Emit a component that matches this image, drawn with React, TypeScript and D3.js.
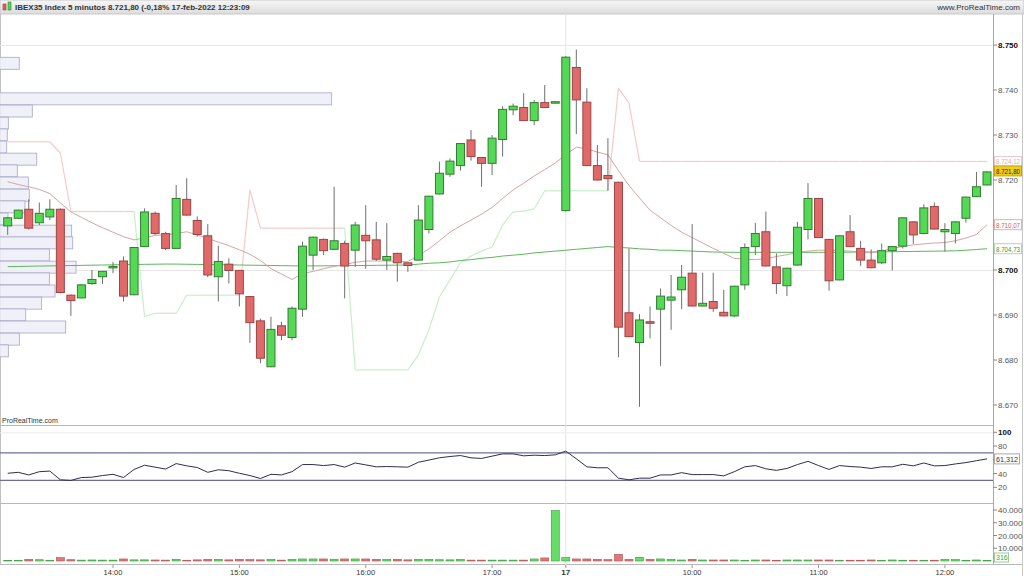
import React, { useEffect } from "react";
import * as d3 from "d3";

// 5-minute bars, 16-feb 13:10 .. 17-feb 12:20
const opens = [8709.8, 8711.5, 8713.5, 8710.5, 8711.8, 8713.5, 8694.4, 8693.8, 8697.0, 8698.5, 8700.6, 8702.0, 8694.5, 8705.2, 8712.6, 8708.1, 8704.8, 8715.7, 8711.0, 8707.6, 8698.5, 8701.3, 8699.9, 8694.1, 8688.7, 8678.5, 8687.6, 8685.0, 8691.3, 8703.3, 8706.8, 8704.6, 8705.9, 8704.4, 8707.7, 8706.7, 8702.2, 8703.7, 8701.6, 8702.2, 8709.0, 8716.9, 8721.3, 8723.2, 8728.9, 8725.0, 8723.7, 8729.0, 8735.6, 8736.1, 8733.2, 8737.2, 8737.2, 8713.2, 8745.0, 8737.3, 8723.2, 8721.0, 8719.5, 8690.5, 8683.9, 8688.5, 8691.3, 8693.3, 8695.6, 8699.3, 8692.0, 8693.0, 8690.6, 8689.8, 8696.7, 8705.2, 8708.5, 8700.7, 8696.5, 8701.1, 8709.0, 8715.9, 8706.8, 8697.8, 8708.5, 8704.8, 8702.2, 8701.6, 8704.3, 8705.3, 8710.7, 8708.1, 8714.1, 8708.5, 8708.1, 8711.5, 8716.3, 8718.9];
const highs = [8711.8, 8713.4, 8715.7, 8715.0, 8715.7, 8713.7, 8694.6, 8696.8, 8700.0, 8699.8, 8701.8, 8703.0, 8705.1, 8713.7, 8713.0, 8708.5, 8718.9, 8720.4, 8711.9, 8710.2, 8705.4, 8702.6, 8700.0, 8694.2, 8689.2, 8689.6, 8688.5, 8691.9, 8706.3, 8707.4, 8707.0, 8718.5, 8706.5, 8710.7, 8714.4, 8710.7, 8710.4, 8703.8, 8701.7, 8714.4, 8716.5, 8724.1, 8724.8, 8728.2, 8731.1, 8725.1, 8730.0, 8736.4, 8737.0, 8739.3, 8737.8, 8741.1, 8737.5, 8747.5, 8749.0, 8740.4, 8727.8, 8729.3, 8719.6, 8704.8, 8690.2, 8691.9, 8695.9, 8698.9, 8701.1, 8710.2, 8699.4, 8699.4, 8695.6, 8696.5, 8705.9, 8710.5, 8713.0, 8703.7, 8700.5, 8710.7, 8719.3, 8716.0, 8706.9, 8707.7, 8712.2, 8706.5, 8704.6, 8705.9, 8705.3, 8711.7, 8710.8, 8714.6, 8715.0, 8710.4, 8710.8, 8716.3, 8721.8, 8721.9];
const lows = [8707.8, 8711.3, 8709.0, 8710.0, 8711.1, 8694.8, 8689.8, 8693.7, 8696.7, 8696.9, 8699.3, 8693.0, 8694.4, 8705.1, 8707.8, 8704.4, 8704.7, 8712.1, 8707.4, 8698.4, 8693.0, 8697.0, 8691.9, 8683.8, 8679.3, 8678.4, 8684.4, 8684.4, 8689.6, 8700.0, 8703.3, 8704.5, 8693.7, 8700.7, 8700.3, 8702.0, 8700.0, 8697.4, 8699.6, 8702.1, 8708.1, 8716.8, 8720.7, 8722.1, 8724.3, 8718.5, 8721.1, 8725.2, 8734.4, 8733.1, 8732.2, 8736.0, 8737.1, 8713.0, 8730.2, 8723.1, 8719.9, 8717.6, 8680.6, 8685.1, 8669.6, 8684.8, 8678.7, 8686.7, 8691.3, 8691.9, 8691.9, 8690.7, 8689.7, 8689.5, 8695.6, 8703.3, 8700.8, 8694.7, 8694.2, 8701.0, 8706.8, 8707.1, 8695.4, 8697.7, 8705.1, 8700.9, 8700.4, 8701.3, 8699.9, 8704.8, 8705.8, 8708.0, 8709.0, 8704.1, 8705.9, 8710.5, 8716.2, 8718.8];
const closes = [8711.6, 8713.3, 8709.3, 8712.6, 8713.5, 8695.0, 8693.2, 8696.7, 8697.9, 8699.7, 8700.8, 8694.2, 8705.0, 8712.9, 8708.1, 8704.8, 8715.9, 8712.2, 8707.9, 8698.9, 8701.9, 8699.9, 8694.7, 8688.3, 8680.4, 8686.8, 8685.5, 8691.5, 8705.3, 8707.3, 8704.3, 8706.5, 8700.9, 8710.0, 8706.5, 8702.4, 8703.0, 8701.6, 8701.0, 8711.1, 8716.4, 8721.5, 8724.2, 8728.1, 8725.2, 8723.7, 8729.3, 8735.7, 8736.4, 8733.2, 8737.2, 8736.1, 8737.4, 8747.3, 8737.8, 8723.2, 8720.0, 8720.3, 8687.3, 8685.2, 8688.9, 8688.2, 8694.2, 8694.0, 8698.4, 8692.0, 8692.6, 8691.5, 8689.8, 8696.4, 8705.0, 8708.1, 8700.9, 8697.0, 8700.4, 8709.5, 8715.9, 8707.2, 8697.6, 8707.6, 8705.2, 8702.2, 8700.5, 8704.3, 8705.2, 8711.6, 8707.8, 8713.8, 8709.1, 8709.0, 8710.7, 8716.2, 8718.5, 8721.8];
const volumes = [500, 600, 1300, 1000, 600, 2600, 1000, 700, 800, 700, 700, 1600, 900, 900, 800, 700, 1300, 600, 900, 1300, 1300, 900, 1300, 1100, 900, 1300, 700, 1300, 1600, 1600, 1600, 1400, 1600, 1600, 1600, 1300, 1300, 1300, 900, 1300, 1300, 1000, 900, 1300, 700, 700, 700, 700, 700, 700, 1600, 2400, 39500, 2600, 1600, 1600, 1300, 1050, 5200, 1300, 2900, 1300, 1600, 1300, 800, 1300, 800, 800, 800, 800, 600, 800, 800, 600, 800, 800, 800, 800, 800, 600, 600, 600, 800, 600, 800, 600, 600, 600, 600, 1300, 1050, 600, 800, 316];
const rsiValues = [40.4, 41.8, 38.0, 42.7, 43.6, 30.9, 30.0, 34.2, 34.7, 37.1, 38.9, 34.2, 46.0, 52.1, 49.3, 46.5, 54.5, 51.2, 48.8, 41.8, 45.5, 44.1, 40.4, 37.1, 32.8, 38.9, 38.0, 42.7, 53.1, 53.1, 51.6, 53.1, 49.3, 55.4, 52.6, 49.8, 50.2, 49.8, 49.3, 56.4, 59.6, 62.9, 64.8, 66.2, 62.9, 62.0, 65.3, 68.6, 68.6, 65.8, 66.7, 66.2, 67.2, 72.6, 61.5, 49.8, 48.4, 48.4, 33.3, 30.9, 33.3, 33.3, 38.0, 38.0, 41.3, 38.5, 38.5, 38.5, 36.6, 42.7, 49.8, 51.6, 46.9, 44.6, 47.4, 53.1, 57.8, 51.6, 46.0, 51.6, 50.2, 49.3, 47.4, 49.8, 49.8, 53.5, 51.2, 55.4, 51.2, 51.6, 54.0, 55.9, 58.7, 61.312];
const maFast = [8719.6, 8719.0, 8718.5, 8717.9, 8717.0, 8714.9, 8712.9, 8711.7, 8710.5, 8709.4, 8708.4, 8707.4, 8706.7, 8707.1, 8707.7, 8707.8, 8708.1, 8708.5, 8707.8, 8707.0, 8706.2, 8705.4, 8704.5, 8703.5, 8702.1, 8700.3, 8699.1, 8697.9, 8699.2, 8699.7, 8700.3, 8700.8, 8701.2, 8701.7, 8702.0, 8702.0, 8702.0, 8701.9, 8701.9, 8703.2, 8704.7, 8706.5, 8708.4, 8709.8, 8711.1, 8712.4, 8713.9, 8715.9, 8717.8, 8719.3, 8720.9, 8722.3, 8723.8, 8725.6, 8727.3, 8726.9, 8726.2, 8725.6, 8722.1, 8718.8, 8716.0, 8713.3, 8711.6, 8709.9, 8708.4, 8707.2, 8706.0, 8704.8, 8703.7, 8702.6, 8702.4, 8702.3, 8702.5, 8703.0, 8703.4, 8703.9, 8704.2, 8704.4, 8704.4, 8704.3, 8704.2, 8704.0, 8703.8, 8704.2, 8704.8, 8705.2, 8705.6, 8705.8, 8706.0, 8706.1, 8706.5, 8707.1, 8707.9, 8710.07];
const maSlow = [8700.75, 8700.79, 8700.83, 8700.87, 8700.91, 8700.95, 8700.99, 8701.03, 8701.07, 8701.11, 8701.15, 8701.19, 8701.22, 8701.26, 8701.29, 8701.32, 8701.31, 8701.28, 8701.24, 8701.21, 8701.18, 8701.14, 8701.11, 8701.07, 8701.04, 8701.0, 8700.97, 8700.93, 8700.9, 8700.91, 8700.93, 8700.95, 8700.97, 8700.99, 8701.01, 8701.04, 8701.06, 8701.08, 8701.11, 8701.3, 8701.5, 8701.6, 8701.8, 8702.1, 8702.3, 8702.6, 8702.8, 8703.1, 8703.3, 8703.5, 8703.8, 8704.0, 8704.2, 8704.4, 8704.6, 8704.8, 8705.0, 8705.2, 8705.0, 8704.9, 8704.7, 8704.6, 8704.4, 8704.4, 8704.3, 8704.2, 8704.1, 8704.0, 8703.95, 8703.93, 8703.93, 8703.93, 8703.93, 8703.93, 8703.93, 8703.93, 8703.93, 8703.93, 8703.93, 8703.95, 8703.97, 8703.99, 8704.01, 8704.04, 8704.06, 8704.1, 8704.12, 8704.15, 8704.19, 8704.22, 8704.27, 8704.4, 8704.55, 8704.73];
const superTrend = [8728.5, 8728.5, 8728.5, 8728.5, 8728.5, 8726.0, 8713.0, 8713.0, 8713.0, 8713.0, 8713.0, 8713.0, 8713.0, 8689.6, 8690.4, 8690.4, 8690.4, 8694.4, 8694.4, 8694.4, 8694.4, 8694.4, 8694.4, 8717.8, 8709.3, 8709.3, 8709.3, 8709.3, 8709.3, 8709.3, 8709.3, 8709.3, 8709.3, 8677.8, 8677.8, 8677.8, 8677.8, 8677.8, 8677.8, 8681.1, 8686.7, 8694.0, 8697.8, 8701.6, 8703.1, 8704.2, 8705.1, 8710.0, 8712.9, 8713.1, 8713.6, 8717.6, 8717.6, 8717.6, 8717.6, 8717.6, 8717.6, 8717.6, 8740.4, 8737.1, 8724.12, 8724.12, 8724.12, 8724.12, 8724.12, 8724.12, 8724.12, 8724.12, 8724.12, 8724.12, 8724.12, 8724.12, 8724.12, 8724.12, 8724.12, 8724.12, 8724.12, 8724.12, 8724.12, 8724.12, 8724.12, 8724.12, 8724.12, 8724.12, 8724.12, 8724.12, 8724.12, 8724.12, 8724.12, 8724.12, 8724.12, 8724.12, 8724.12, 8724.12];

// volume profile: low edge of each price bin and its volume
const profileLow = [8744.6, 8742.0, 8739.3, 8736.7, 8734.0, 8731.3, 8728.7, 8726.0, 8723.3, 8720.7, 8718.0, 8715.3, 8712.7, 8710.0, 8707.3, 8704.7, 8702.0, 8699.3, 8696.7, 8694.0, 8691.3, 8688.7, 8686.0, 8683.3, 8680.7];
const profileVol = [2380, 0, 0, 41000, 3990, 1030, 900, 830, 4540, 2140, 3500, 3620, 3090, 990, 8860, 8990, 6100, 9400, 6100, 6800, 5150, 3180, 8120, 2390, 1030];
const profileBin = 2.667;

const tickIndex = [10, 22, 34, 46, 53, 65, 77, 89];
const tickLabels = ["14:00", "15:00", "16:00", "17:00", "17", "10:00", "11:00", "12:00"];
const priceTicks = [8670, 8680, 8690, 8700, 8710, 8720, 8730, 8740, 8750];
const rsiTicks = [20, 40, 60, 80, 100];
const volTicks = [10000, 20000, 30000, 40000];

const es = d3.formatLocale({ decimal: ",", thousands: ".", grouping: [3], currency: ["", ""] });
const fmtInt = es.format(",.0f");
const fmt2 = es.format(",.2f");
const fmt3 = es.format(",.3f");

const FONT = "'Liberation Sans', Arial, sans-serif";
const AXIS_X = 993;
const TAG_W = 27;

export default function App() {
  useEffect(() => {
    document.body.style.margin = "0";
  }, []);

  const n = closes.length;
  const x = d3.scaleLinear().domain([0, n - 1]).range([7.7, 987]);
  const y = d3.scaleLinear().domain([8700, 8750]).range([270, 45]);
  const yRsi = d3.scaleLinear().domain([20, 100]).range([487.3, 432.3]);
  const yVol = d3.scaleLinear().domain([0, 40000]).range([561, 510]);
  const xProf = d3.scaleLinear().domain([0, 41000]).range([0, 331.7]);
  const idx = d3.range(n);
  const bw = 8;

  const up = (i: number) => closes[i] >= opens[i];
  const lineOf = (arr: number[], sc: d3.ScaleLinear<number, number>) =>
    d3.line<number>().x((i) => x(i)).y((i) => sc(arr[i]))(idx) || "";

  // supertrend segments: pink above price, green below
  const stSegs = idx.slice(1).map((i) => ({
    d: `M${x(i - 1)},${y(superTrend[i - 1])}L${x(i)},${y(superTrend[i])}`,
    bull: superTrend[i] < closes[i],
  }));

  const last = n - 1;
  const tags = [
    { v: superTrend[last], color: "#e8a8a8", border: "#e8caca" },
    { v: maFast[last], color: "#c86464", border: "#e0b0b0" },
    { v: maSlow[last], color: "#3a9a3a", border: "#b0d8b0" },
  ];
  const tagYs = [...tags.map((t) => y(t.v)), y(closes[last])];
  // tick labels hidden under a value tag (except the close tag which sits above its tick)
  const hidden = (p: number) => tags.some((t) => Math.abs(y(t.v) - y(p)) < 6);

  return (
    <svg width={1024} height={576} style={{ position: "fixed", left: 0, top: 0, background: "#fff" }} fontFamily={FONT}>
      <defs>
        <linearGradient id="hdr" x1="0" y1="0" x2="0" y2="1">
          <stop offset="0" stopColor="#f7f7f7" />
          <stop offset="1" stopColor="#dcdcdc" />
        </linearGradient>
        <clipPath id="main"><rect x={0} y={15} width={AXIS_X} height={410} /></clipPath>
      </defs>

      {/* header */}
      <rect x={0} y={0} width={1024} height={14} fill="url(#hdr)" stroke="#c8c8c8" />
      <rect x={3} y={4} width={3} height={6} fill="#e06060" stroke="#a04040" strokeWidth={0.6} />
      <rect x={8} y={2} width={3} height={8} fill="#55d555" stroke="#2e8a2e" strokeWidth={0.6} />
      <text x={15} y={10} fontSize={8} fontWeight="bold" fill="#333">IBEX35 Index 5 minutos 8.721,80 (-0,18% 17-feb-2022 12:23:09</text>
      <text x={1020} y={10} fontSize={8} fill="#333" textAnchor="end">www.ProRealTime.com</text>

      {/* frame & separators */}
      <line x1={0.5} y1={14} x2={0.5} y2={565} stroke="#c0c0c0" />
      <line x1={1022.5} y1={14} x2={1022.5} y2={576} stroke="#c8c8c8" />
      <line x1={AXIS_X + 0.5} y1={14} x2={AXIS_X + 0.5} y2={565} stroke="#a8a8a8" />
      <line x1={0} y1={425.5} x2={AXIS_X} y2={425.5} stroke="#b8b8b8" />
      <line x1={0} y1={503.5} x2={AXIS_X} y2={503.5} stroke="#b8b8b8" />
      <line x1={0} y1={564.5} x2={1022} y2={564.5} stroke="#b8b8b8" />
      <line x1={x(53)} y1={14} x2={x(53)} y2={565} stroke="#e4e4e4" />

      {/* grid */}
      {[8700, 8750].map((p) => (
        <line key={p} x1={0} x2={AXIS_X} y1={Math.round(y(p)) + 0.5} y2={Math.round(y(p)) + 0.5} stroke="#e6e6e6" />
      ))}
      <line x1={0} x2={AXIS_X} y1={yRsi(100) + 0.5} y2={yRsi(100) + 0.5} stroke="#ececec" />

      {/* main panel */}
      <g clipPath="url(#main)">
        {profileLow.map((p, k) =>
          profileVol[k] > 0 ? (
            <rect key={k} x={-1} y={y(p + profileBin)} width={xProf(profileVol[k]) + 1} height={y(p) - y(p + profileBin)}
              fill="#ededf8" fillOpacity={0.85} stroke="#a6a6c6" strokeWidth={0.8} />
          ) : null
        )}
        {stSegs.map((s, k) => (
          <path key={k} d={s.d} fill="none" stroke={s.bull ? "#c6f0c6" : "#f7caca"} strokeWidth={1.2} />
        ))}
        <path d={lineOf(maSlow, y)} fill="none" stroke="#5cb85c" strokeWidth={1} />
        <path d={lineOf(maFast, y)} fill="none" stroke="#d8a4a4" strokeWidth={1} />
        {idx.map((i) => {
          const top = y(Math.max(opens[i], closes[i]));
          const h = Math.max(1.5, y(Math.min(opens[i], closes[i])) - top);
          return (
            <g key={i}>
              <line x1={x(i)} x2={x(i)} y1={y(highs[i])} y2={y(lows[i])} stroke="#6f6f6f" strokeWidth={1} />
              <rect x={x(i) - bw / 2} y={top} width={bw} height={h}
                fill={up(i) ? "#55d855" : "#e06a6a"} stroke={up(i) ? "#2f7f2f" : "#9c4444"} strokeWidth={1} />
            </g>
          );
        })}
        <text x={2} y={423} fontSize={7} fill="#333">ProRealTime.com</text>
      </g>

      {/* price axis */}
      {priceTicks.map((p) => (
        <g key={p}>
          <line x1={AXIS_X} x2={AXIS_X + 4} y1={y(p)} y2={y(p)} stroke="#888" />
          {!hidden(p) && (
            <text x={AXIS_X + 5} y={y(p) + 3} fontSize={8} fill={p % 50 === 0 ? "#111" : "#555"}
              fontWeight={p % 50 === 0 ? "bold" : "normal"}>{fmtInt(p)}</text>
          )}
        </g>
      ))}
      {tags.map((t, k) => (
        <g key={k}>
          <rect x={AXIS_X + 1.5} y={tagYs[k] - 5} width={TAG_W} height={10} fill="#fff" stroke={t.border} />
          <text x={AXIS_X + 3} y={tagYs[k] + 3} fontSize={7.5} fill={t.color} textLength={TAG_W - 3}
            lengthAdjust="spacingAndGlyphs">{fmt2(t.v)}</text>
        </g>
      ))}
      <rect x={AXIS_X + 1.5} y={tagYs[3] - 6} width={TAG_W} height={10} fill="#f2cc1a" stroke="#c9a200" />
      <text x={AXIS_X + 3} y={tagYs[3] + 2} fontSize={7.5} fill="#222" textLength={TAG_W - 3}
        lengthAdjust="spacingAndGlyphs">{fmt2(closes[last])}</text>

      {/* RSI panel */}
      <line x1={0} x2={AXIS_X} y1={yRsi(70)} y2={yRsi(70)} stroke="#6e6e9a" strokeWidth={1.2} />
      <line x1={0} x2={AXIS_X} y1={yRsi(30)} y2={yRsi(30)} stroke="#6e6e9a" strokeWidth={1.2} />
      <path d={lineOf(rsiValues, yRsi)} fill="none" stroke="#2e2e50" strokeWidth={1} />
      {rsiTicks.map((v) => (
        <g key={v}>
          <line x1={AXIS_X} x2={AXIS_X + 4} y1={yRsi(v)} y2={yRsi(v)} stroke="#888" />
          {Math.abs(yRsi(v) - yRsi(rsiValues[last])) > 6 && (
            <text x={AXIS_X + 5} y={yRsi(v) + 3} fontSize={8} fill={v === 100 ? "#111" : "#555"}
              fontWeight={v === 100 ? "bold" : "normal"}>{v}</text>
          )}
        </g>
      ))}
      <rect x={AXIS_X + 1.5} y={yRsi(rsiValues[last]) - 5} width={TAG_W - 2} height={10} fill="#fff" stroke="#aaa" />
      <text x={AXIS_X + 3} y={yRsi(rsiValues[last]) + 3} fontSize={7.5} fill="#333" textLength={TAG_W - 5}
        lengthAdjust="spacingAndGlyphs">{fmt3(rsiValues[last])}</text>

      {/* volume panel */}
      {idx.map((i) => (
        <rect key={i} x={x(i) - bw / 2} y={yVol(volumes[i])} width={bw} height={yVol(0) - yVol(volumes[i])}
          fill={up(i) ? "#66dd66" : "#e07878"} stroke={up(i) ? "#3c9a3c" : "#b05050"} strokeWidth={0.6} />
      ))}
      {volTicks.map((v) => (
        <g key={v}>
          <line x1={AXIS_X} x2={AXIS_X + 4} y1={yVol(v)} y2={yVol(v)} stroke="#888" />
          <text x={AXIS_X + 5} y={yVol(v) + 3} fontSize={8} fill="#555">{fmtInt(v)}</text>
        </g>
      ))}
      <rect x={AXIS_X + 1.5} y={yVol(0) - 8} width={14} height={9} fill="#fff" stroke="#9c9" />
      <text x={AXIS_X + 3} y={yVol(0) - 1} fontSize={7} fill="#3a3">{fmtInt(volumes[last])}</text>

      {/* time axis */}
      {tickIndex.map((ti, k) => (
        <g key={ti}>
          <line x1={x(ti)} x2={x(ti)} y1={565} y2={568} stroke="#999" />
          <text x={x(ti)} y={575} fontSize={tickLabels[k] === "17" ? 8 : 7.5} textAnchor="middle"
            fill="#333" fontWeight={tickLabels[k] === "17" ? "bold" : "normal"}>{tickLabels[k]}</text>
        </g>
      ))}
    </svg>
  );
}
